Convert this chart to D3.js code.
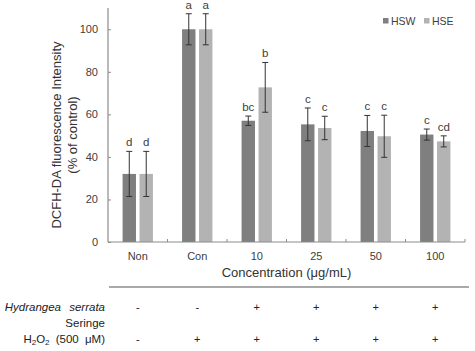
<!DOCTYPE html>
<html><head><meta charset="utf-8">
<script src="https://cdn.jsdelivr.net/npm/d3@7"></script>
<style>body{margin:0;background:#fff}svg{display:block;font-family:"Liberation Sans",Arial,sans-serif}</style>
</head><body><svg id="c" width="475" height="351"></svg>
<script>
const categories = ["Non","Con","10","25","50","100"];
const series = ["HSW","HSE"];
const hswValues = [32,100,57,55.3,52.2,50.5];
const hseValues = [32,100,72.7,53.6,49.7,47.3];
const hswErrors = [10.6,7.3,2.2,7.7,7.3,2.6];
const hseErrors = [10.6,7.3,11.7,5.5,9.9,2.6];
const hswLetters = ["d","a","bc","c","c","c"];
const hseLetters = ["d","a","b","c","c","cd"];
const yTicks = [0,20,40,60,80,100];
const hydrangeaRow = ["-","-","+","+","+","+"];
const h2o2Row = ["-","+","+","+","+","+"];
const colors = {HSW:"#7f7f7f", HSE:"#b3b3b3"};

const svg = d3.select("#c");
const L = 108, R = 465, T = 8, B = 242;
const x0 = d3.scaleBand().domain(categories).range([L,R]).paddingInner(0.49).paddingOuter(0.245);
const x1 = d3.scaleBand().domain(series).range([0,x0.bandwidth()]).paddingInner(0.21);
const y = d3.scaleLinear().domain([0,110]).range([B,T]);
const xc = d3.scaleBand().domain(categories).range([L,R]);

const data = series.map(s => ({s, vals: categories.map((c,i)=>({
  c, v: s==="HSW"?hswValues[i]:hseValues[i],
  e: s==="HSW"?hswErrors[i]:hseErrors[i],
  l: s==="HSW"?hswLetters[i]:hseLetters[i]}))}));

const g = svg.append("g");
data.forEach(d=>{
  const gg = g.append("g");
  gg.selectAll("rect").data(d.vals).join("rect")
    .attr("x", v=>x0(v.c)+x1(d.s)).attr("width", x1.bandwidth())
    .attr("y", v=>y(v.v)).attr("height", v=>B-y(v.v)).attr("fill", colors[d.s]);
  const cx = v=>x0(v.c)+x1(d.s)+x1.bandwidth()/2;
  gg.selectAll("line.e").data(d.vals).join("line").attr("class","e")
    .attr("x1",cx).attr("x2",cx).attr("y1",v=>y(v.v+v.e)).attr("y2",v=>y(v.v-v.e))
    .attr("stroke","#333").attr("stroke-width",1);
  ["+","-"].forEach(sg=>{
    gg.selectAll("line.c"+(sg==="+"?"p":"m")).data(d.vals).join("line").attr("class","c"+(sg==="+"?"p":"m"))
      .attr("x1",v=>cx(v)-3).attr("x2",v=>cx(v)+3)
      .attr("y1",v=>y(sg==="+"?v.v+v.e:v.v-v.e)).attr("y2",v=>y(sg==="+"?v.v+v.e:v.v-v.e))
      .attr("stroke","#333").attr("stroke-width",1);
  });
  gg.selectAll("text").data(d.vals).join("text")
    .attr("x",cx).attr("y",v=>y(v.v+v.e)-5).attr("text-anchor","middle")
    .attr("font-size",11.5).attr("fill","#404040").text(v=>v.l);
});

// axes
const axisColor = "#8c8c8c";
const yAxis = svg.append("g").attr("transform",`translate(${L},0)`)
  .call(d3.axisLeft(y).tickValues(yTicks).tickSize(-3).tickPadding(10));
yAxis.select(".domain").attr("stroke",axisColor).attr("stroke-width",1.2).attr("d",`M0,${T}V${B}`);
yAxis.selectAll(".tick line").attr("stroke",axisColor);
yAxis.selectAll("text").attr("font-size",11).attr("fill","#404040").attr("font-family","Liberation Sans, Arial");

const xAxis = svg.append("g").attr("transform",`translate(0,${B})`);
xAxis.append("line").attr("x1",L).attr("x2",R).attr("stroke",axisColor).attr("stroke-width",1.2);
xAxis.selectAll("line.t").data(categories).join("line").attr("class","t")
  .attr("x1",c=>xc(c)+xc.bandwidth()).attr("x2",c=>xc(c)+xc.bandwidth()).attr("y1",0).attr("y2",-3)
  .attr("stroke",axisColor);
xAxis.selectAll("text").data(categories).join("text")
  .attr("x",c=>xc(c)+xc.bandwidth()/2).attr("y",18).attr("text-anchor","middle")
  .attr("font-size",11).attr("fill","#404040").text(c=>c);

svg.append("text").attr("x",(L+R)/2).attr("y",277).attr("text-anchor","middle")
  .attr("font-size",13).attr("fill","#333").text("Concentration (μg/mL)");

const yt = svg.append("text").attr("transform","translate(0,135) rotate(-90)").attr("text-anchor","middle")
  .attr("font-size",13).attr("fill","#333");
yt.append("tspan").attr("x",0).attr("y",61).text("DCFH-DA fluorescence Intensity");
yt.append("tspan").attr("x",0).attr("y",77).text("(% of control)");

// legend
const lg = svg.append("g");
const lx = [383, 424];
series.forEach((s,i)=>{
  lg.append("rect").attr("x",lx[i]).attr("y",18).attr("width",5.5).attr("height",5.5).attr("fill",colors[s]);
  lg.append("text").attr("x",lx[i]+8).attr("y",24.5).attr("font-size",10.5).attr("fill","#404040").text(s);
});

// separator + treatment table
svg.append("line").attr("x1",109).attr("x2",469).attr("y1",287).attr("y2",287).attr("stroke","#8c8c8c").attr("stroke-width",1.5);
svg.append("text").attr("x",105).attr("y",311).attr("text-anchor","end").attr("font-size",11.5)
  .attr("font-style","italic").attr("word-spacing",5).attr("fill","#222").text("Hydrangea serrata");
svg.append("text").attr("x",105).attr("y",327).attr("text-anchor","end").attr("font-size",11.5)
  .attr("fill","#222").text("Seringe");
const h = svg.append("text").attr("x",105).attr("y",343).attr("text-anchor","end").attr("font-size",11.5)
  .attr("fill","#222").attr("word-spacing",3);
h.append("tspan").text("H");
h.append("tspan").attr("font-size",8).attr("dy",2).text("2");
h.append("tspan").attr("dy",-2).text("O");
h.append("tspan").attr("font-size",8).attr("dy",2).text("2");
h.append("tspan").attr("dy",-2).text(" (500 μM)");

svg.selectAll("text.r1").data(hydrangeaRow).join("text").attr("class","r1")
  .attr("x",(d,i)=>xc(categories[i])+xc.bandwidth()/2).attr("y",311).attr("text-anchor","middle")
  .attr("font-size",11).attr("fill","#222").text(d=>d);
svg.selectAll("text.r2").data(h2o2Row).join("text").attr("class","r2")
  .attr("x",(d,i)=>xc(categories[i])+xc.bandwidth()/2).attr("y",343).attr("text-anchor","middle")
  .attr("font-size",11).attr("fill","#222").text(d=>d);
</script></body></html>
